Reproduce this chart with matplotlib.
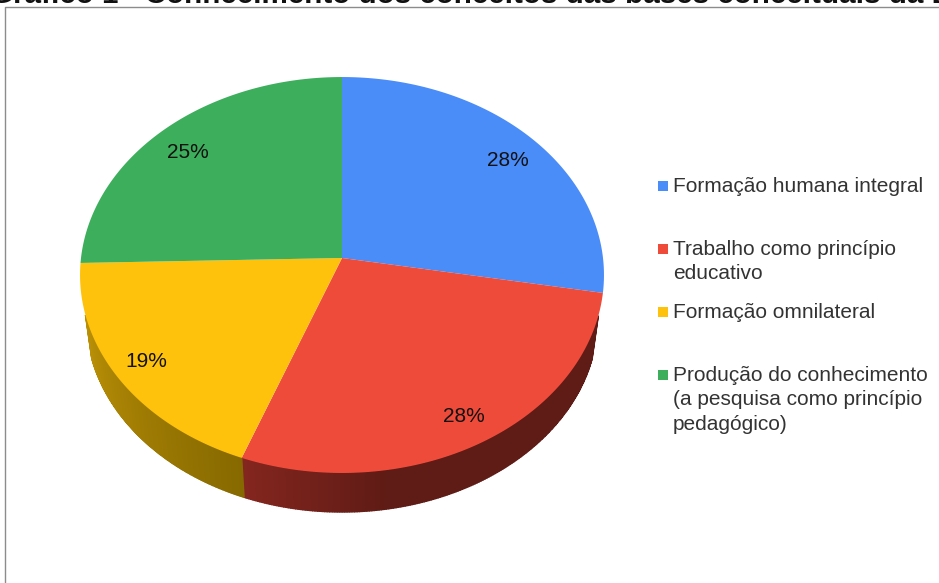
import numpy as np
import matplotlib
matplotlib.use("Agg")
import matplotlib.pyplot as plt
from matplotlib.patches import Polygon, Rectangle
from matplotlib.colors import to_rgb

categories = ["Formação humana integral", "Trabalho como princípio\neducativo",
              "Formação omnilateral",
              "Produção do conhecimento\n(a pesquisa como princípio\npedagógico)"]
values = [27.8, 27.95, 18.85, 25.4]
top_colors = ["#4a8cf8", "#ee4b3a", "#ffc20c", "#3cae5c"]
side_bright = ["#3a6cc0", "#84261f", "#c89a08", "#2a7a42"]
side_dark = ["#2a4c88", "#5f1b15", "#866900", "#1c5630"]
title = "Gráfico 1 - Conhecimento dos conceitos das bases conceituais da EPT"

plt.rcParams["font.family"] = ["Liberation Sans", "DejaVu Sans"]
fig = plt.figure(figsize=(9.39, 5.83), dpi=100)
ax = fig.add_axes([0, 0, 1, 1])
ax.set_xlim(0, 939)
ax.set_ylim(583, 0)
ax.axis("off")

# perspective projection of the disc
cx, cy, a, b, k = 342, 258, 261, 196.5, 0.0859
def proj(theta):
    u, v = np.sin(theta), np.cos(theta)
    d = 1 + k * v
    return a * u / d, -b * v / d
def top(theta):
    x, y = proj(theta)
    return cx + x, cy + y
def low(theta):
    x, y = proj(theta)
    return cx + 0.976 * x, cy + 44.2 + 0.976 * y

fr = np.cumsum([0] + values) / sum(values) * 2 * np.pi

# side walls (only the part below the line where the two rims cross is visible)
for i in range(4):
    t = np.linspace(fr[i], fr[i + 1], 200)
    bright, dark = np.array(to_rgb(side_bright[i])), np.array(to_rgb(side_dark[i]))
    for j in range(len(t) - 1):
        xa, ya = top(t[j]); xb, yb = top(t[j + 1])
        if ya < 316 and yb < 316:
            continue
        xc, yc = low(t[j + 1]); xd, yd = low(t[j])
        s = (t[j] - fr[i]) / (fr[i + 1] - fr[i])   # 0 at the clockwise start, 1 at the end
        # the red wall darkens quickly from its left end (s = 1)
        w = np.clip((1 - s) / 0.3, 0, 1) if i == 1 else 1 - s
        col = bright + (dark - bright) * w
        ax.add_patch(Polygon([(xa, ya), (xb, yb), (xc, yc), (xd, yd)], closed=True,
                             facecolor=col, edgecolor=col, lw=1.0, zorder=1))

# top faces
for i in range(4):
    t = np.linspace(fr[i], fr[i + 1], 200)
    xs, ys = top(t)
    pts = np.vstack([[cx, cy], np.column_stack([xs, ys])])
    ax.add_patch(Polygon(pts, closed=True, facecolor=top_colors[i], edgecolor="none", zorder=2))

# percentage labels
for i in range(4):
    mid = (fr[i] + fr[i + 1]) / 2
    x, y = proj(mid)
    ax.text(cx + 0.875 * x, cy + 3 + 0.84 * y, f"{values[i]:.0f}%", fontsize=15,
            color="#111111", ha="center", va="center", zorder=3)

# legend
leg_y = [186, 249, 312, 375]
for c, name, y in zip(top_colors, categories, leg_y):
    ax.add_patch(Rectangle((658, y - 5), 10, 10, facecolor=c, edgecolor="none", zorder=3))
    ax.text(673, y - 9, name, fontsize=15, color="#333333", ha="left", va="top",
            linespacing=1.36, zorder=3)

# frame
ax.plot([5.2, 5.2, 939], [582, 7.3, 7.3], color="#8c8c8c", lw=1.0, zorder=0)

# title, cut by the top edge as in the reference
ax.text(-10.4, 3, title, fontsize=21.3, fontweight="bold", color="#111111",
        ha="left", va="baseline", clip_on=True, zorder=5)

fig.savefig("out.png", dpi=100, facecolor="white")
